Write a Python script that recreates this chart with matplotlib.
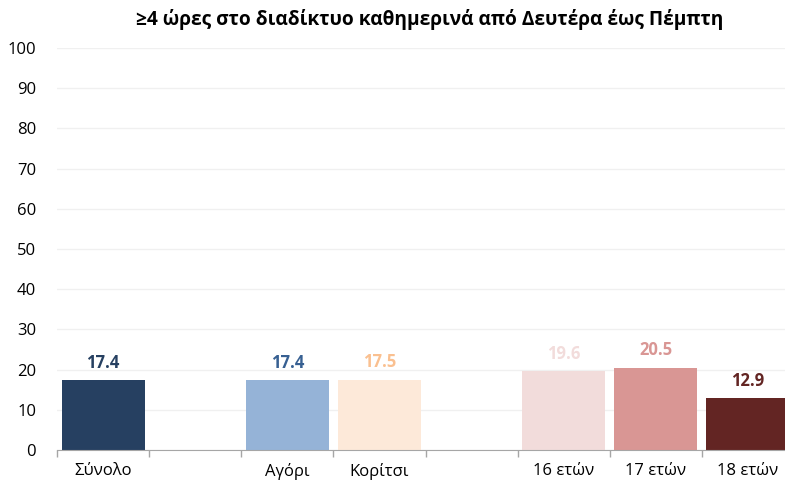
import matplotlib
matplotlib.use('Agg')
import matplotlib.pyplot as plt
from matplotlib.ticker import FixedLocator

plt.rcParams['font.family'] = ['Open Sans', 'DejaVu Sans']

# data
categories = ['Σύνολο', '', 'Αγόρι', 'Κορίτσι', '', '16 ετών', '17 ετών', '18 ετών']
values = [17.4, None, 17.4, 17.5, None, 19.6, 20.5, 12.9]
bar_colors = ['#264061', None, '#95B3D7', '#FDE9D9', None, '#F2DCDB', '#D99694', '#632523']
label_colors = ['#264061', None, '#376092', '#FAC090', None, '#F2DCDB', '#D99694', '#632523']
title = '≥4 ώρες στο διαδίκτυο καθημερινά από Δευτέρα έως Πέμπτη'

fig = plt.figure(figsize=(7.85, 4.86), dpi=100)
ax = fig.add_axes([57 / 785, 36 / 486, (794 - 57) / 785, (450 - 48) / 486])

for i, v in enumerate(values):
    if v is None:
        continue
    ax.bar(i, v, width=0.9, color=bar_colors[i], zorder=2)
    ax.annotate(f'{v:.1f}', (i, v), xytext=(0, 6), textcoords='offset points',
                ha='center', va='bottom', fontsize=12, fontweight='bold',
                color=label_colors[i])

ax.set_xlim(-0.5, len(categories) - 0.5)
ax.set_ylim(0, 100)
ax.set_yticks(range(0, 101, 10))
ax.set_xticks(range(len(categories)))
ax.set_xticklabels(categories)
ax.xaxis.set_minor_locator(FixedLocator([i - 0.5 for i in range(len(categories) + 1)]))

ax.tick_params(axis='x', which='major', length=0, pad=9, labelsize=12, colors='#000000')
ax.tick_params(axis='x', which='minor', length=5, color='#A6A6A6', width=1)
ax.tick_params(axis='y', length=0, pad=15, labelsize=12)

ax.grid(axis='y', color='#F0F0F0', linewidth=1, zorder=0)
for s in ['top', 'right', 'left']:
    ax.spines[s].set_visible(False)
ax.spines['bottom'].set_color('#A6A6A6')
ax.spines['bottom'].set_zorder(3)

fig.text(0.547, 1 - 20 / 486, title, ha='center', va='center',
         fontsize=13.8, fontweight='bold')

fig.savefig('out.png', dpi=100)
